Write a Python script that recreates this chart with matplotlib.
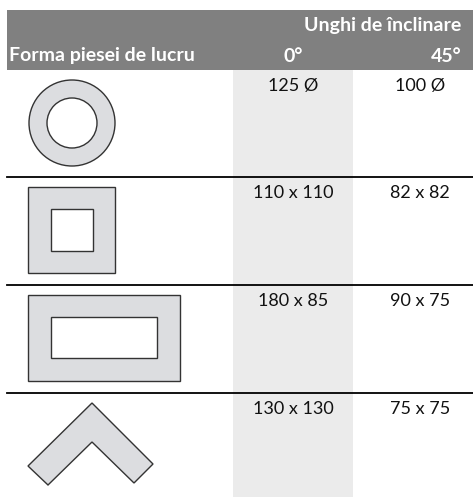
import matplotlib.pyplot as plt
from matplotlib.patches import Circle, Rectangle, Polygon

# Date tabel
forme = ["cerc", "patrat", "dreptunghi", "unghi"]
valori_0 = ["125 Ø", "110 x 110", "180 x 85", "130 x 130"]
valori_45 = ["100 Ø", "82 x 82", "90 x 75", "75 x 75"]
antet_grup = "Unghi de înclinare"
antet_col = ["Forma piesei de lucru", "0°", "45°"]

plt.rcParams['font.family'] = ['Lato', 'DejaVu Sans']

W, H = 473, 497
fig = plt.figure(figsize=(W / 100, H / 100), dpi=100)
ax = fig.add_axes([0, 0, 1, 1])
ax.set_xlim(0, W)
ax.set_ylim(H, 0)
ax.axis('off')

fill = '#dcdde0'
edge = '#333333'

# antet gri
ax.add_patch(Rectangle((7, 10), W - 7, 60, color='#808080', lw=0))
ax.text(461, 26, antet_grup, color='white', fontsize=14, fontweight='bold', ha='right', va='center')
ax.text(9, 56, antet_col[0], color='white', fontsize=14, fontweight='bold', ha='left', va='center')
ax.text(293, 56, antet_col[1], color='white', fontsize=14, fontweight='bold', ha='center', va='center')
ax.text(461, 56, antet_col[2], color='white', fontsize=14, fontweight='bold', ha='right', va='center')

# coloana 0° gri deschis
ax.add_patch(Rectangle((233, 70), 120, H - 70, color='#ebebeb', lw=0))

# linii despartitoare
for y in [177, 285, 393]:
    ax.plot([7, W], [y, y], color='black', lw=1.3)

row_top = [70, 177, 285, 393]
for i, forma in enumerate(forme):
    ax.text(293, row_top[i] + 16, valori_0[i], fontsize=13, ha='center', va='center', color='#111111')
    ax.text(420, row_top[i] + 16, valori_45[i], fontsize=13, ha='center', va='center', color='#111111')

    if forma == "cerc":
        ax.add_patch(Circle((72, 123), 43, facecolor=fill, edgecolor=edge, lw=1))
        ax.add_patch(Circle((72, 123), 25, facecolor='white', edgecolor=edge, lw=1))
    elif forma == "patrat":
        ax.add_patch(Rectangle((28, 187), 87, 86, facecolor=fill, edgecolor=edge, lw=1))
        ax.add_patch(Rectangle((51, 209), 42, 42, facecolor='white', edgecolor=edge, lw=1))
    elif forma == "dreptunghi":
        ax.add_patch(Rectangle((28, 295), 152, 86, facecolor=fill, edgecolor=edge, lw=1))
        ax.add_patch(Rectangle((51, 317), 106, 41, facecolor='white', edgecolor=edge, lw=1))
    else:
        pts = [(92, 403), (153, 464), (134, 483), (92, 442), (48, 485), (28, 466)]
        ax.add_patch(Polygon(pts, closed=True, facecolor=fill, edgecolor=edge, lw=1))

fig.savefig('out.png', dpi=100)
